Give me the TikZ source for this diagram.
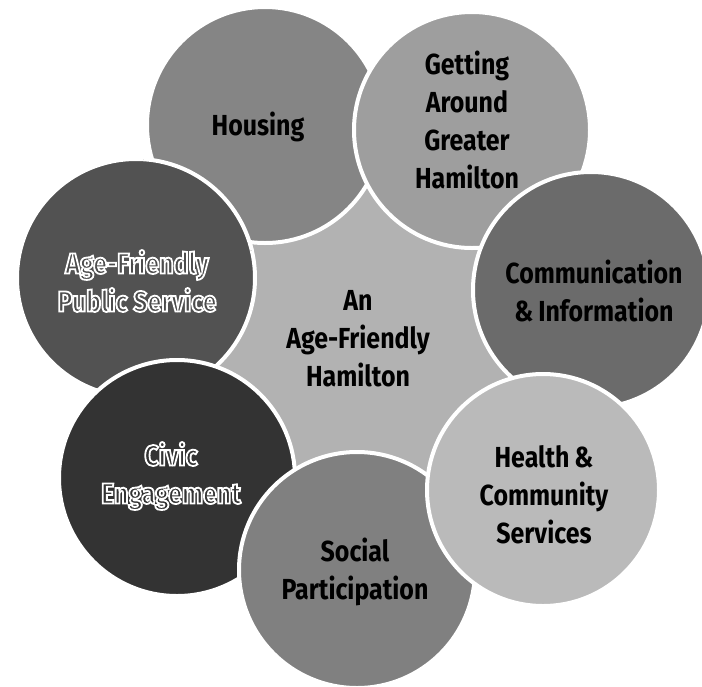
\documentclass[tikz,border=0pt]{standalone}
\usepackage{fontspec}
\setmainfont{Fira Sans}[FakeStretch=0.86]
\tikzset{
  bubble/.style={circle, draw=white, line width=4pt, inner sep=0pt, minimum size=#1},
  lbl/.style={font=\bfseries\fontsize{29}{38}\selectfont, align=center, inner sep=0pt},
}
% white outline round the letters (PDF text render mode 2: fill, then stroke)
\newcommand\outl[1]{\special{pdf:code 2 Tr 1.8 w 1 1 1 RG}#1\special{pdf:code 0 Tr}}
\begin{document}
\begin{tikzpicture}[x=1pt,y=-1pt]
\useasboundingbox (0,0) rectangle (702,686);
\begin{scope}
  \clip (0,0) rectangle (702,686);
  \node[bubble=320pt, fill=black!30, draw=none] (hub) at (355,330) {};
  \node[bubble=238pt, fill=black!68] (public) at (136,278) {};
  \node[bubble=236pt, fill=black!48] (housing) at (265,125) {};
  \node[bubble=236pt, fill=black!38] (getting) at (472,130) {};
  \node[bubble=236pt, fill=black!58] (comm) at (591,290) {};
  \node[bubble=236pt, fill=black!80] (civic) at (177,478) {};
  \node[bubble=236pt, fill=black!50] (social) at (357,570) {};
  \node[bubble=232pt, fill=black!27] (health) at (543,490) {};
  \begin{scope}
    \clip (housing.center) circle (126pt);
    \node[bubble=238pt, fill=black!68] (publicover) at (136,278) {};
  \end{scope}
\end{scope}
\node[lbl] (thub) at (358,339) {An\\Age-Friendly\\Hamilton};
\node[lbl] (thousing) at (258,127) {Housing};
\node[lbl] (tgetting) at (467,120) {Getting\\Around\\Greater\\Hamilton};
\node[lbl] (tcomm) at (594,291) {Communication\\\&\,Information};
\node[lbl] (thealth) at (544,495) {Health\,\&\\Community\\Services};
\node[lbl] (tsocial) at (355,572) {Social\\Participation};
\node[lbl, text=black!80] (tcivic) at (171,476) {\outl{Civic}\\\outl{Engagement}};
\node[lbl, text=black!70] (tpublic) at (137,281) {\outl{Age-Friendly}\\\outl{Public Service}};
\end{tikzpicture}
\end{document}
